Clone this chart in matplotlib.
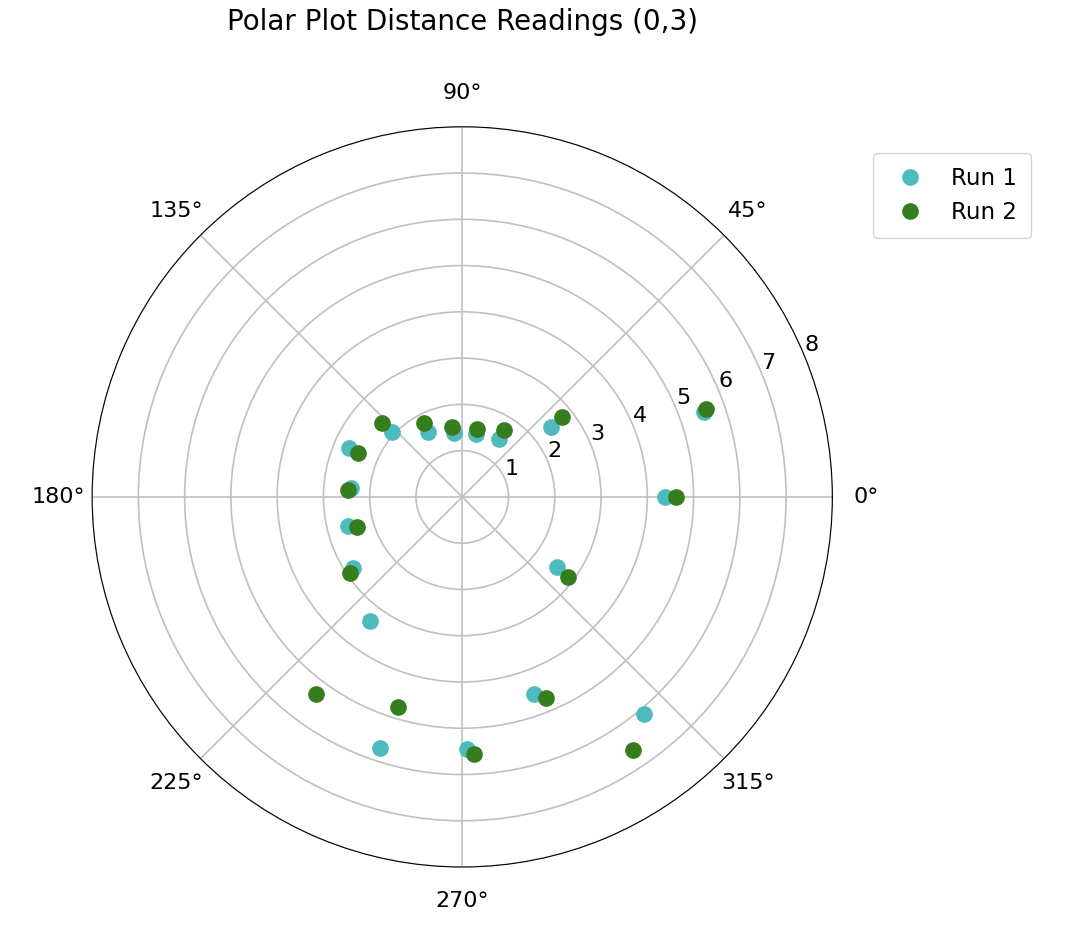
import numpy as np
import matplotlib.pyplot as plt

run1_deg = [0, 19.4, 38.2, 57.5, 77.5, 97, 117.6, 137, 156.6, 175.4, 194.3, 213, 233.4, 251.9, 271, 290, 310, 323.6]
run1_r = [4.39, 5.55, 2.45, 1.49, 1.39, 1.39, 1.59, 2.07, 2.66, 2.41, 2.54, 2.81, 3.34, 5.71, 5.45, 4.54, 6.12, 2.55]
run2_deg = [0, 19.8, 38.7, 57.9, 77.6, 98, 117, 137.2, 157, 176.5, 196, 214, 233.5, 253, 272.7, 292.7, 304, 323]
run2_r = [4.61, 5.61, 2.77, 1.71, 1.51, 1.53, 1.80, 2.36, 2.44, 2.47, 2.36, 2.93, 5.30, 4.75, 5.56, 4.71, 6.61, 2.87]

fig = plt.figure(figsize=(10.7, 9.3), dpi=100)
ax = fig.add_axes([0.086, 0.0677, 0.692, 0.796], projection='polar')
ax.plot(np.radians(run1_deg), run1_r, 'o', color='#4dbbbd', markersize=11, label='Run 1')
ax.plot(np.radians(run2_deg), run2_r, 'o', color='#367d1e', markersize=11, label='Run 2')
ax.set_ylim(0, 8)
ax.set_yticks(range(1, 9))
ax.tick_params(labelsize=16)
ax.tick_params(axis='x', pad=14)
ax.grid(color='#c0c0c0', linewidth=1.2)
ax.set_title('Polar Plot Distance Readings (0,3)', fontsize=20, pad=70)
ax.legend(loc='upper left', bbox_to_anchor=(1.04, 0.98), fontsize=16.5, borderpad=0.6)
fig.savefig('out.png')
